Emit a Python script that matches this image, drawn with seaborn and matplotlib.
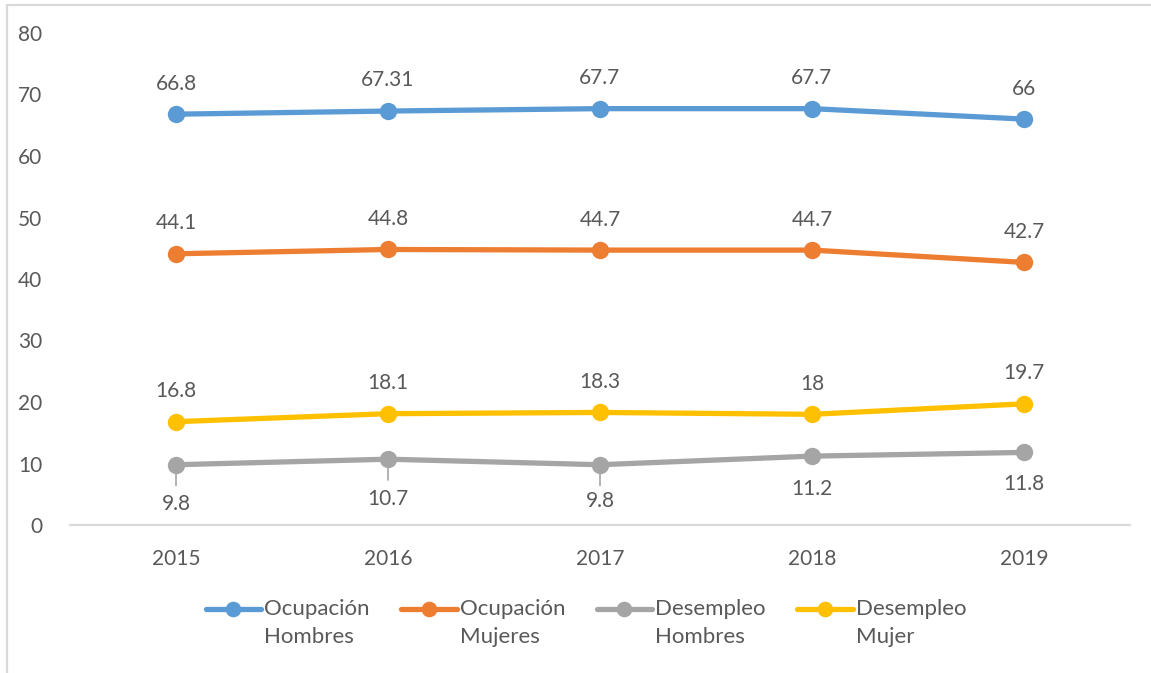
import matplotlib
matplotlib.use("Agg")
import matplotlib.pyplot as plt
from matplotlib.lines import Line2D
from matplotlib.legend_handler import HandlerLine2D
from matplotlib.patches import Rectangle
import numpy as np
import pandas as pd
import seaborn as sns

# Data
years = ["2015", "2016", "2017", "2018", "2019"]
series_names = ["Ocupación\nHombres", "Ocupación\nMujeres", "Desempleo\nHombres", "Desempleo\nMujer"]
ocupacion_hombres = [66.8, 67.31, 67.7, 67.7, 66.0]
ocupacion_mujeres = [44.1, 44.8, 44.7, 44.7, 42.7]
desempleo_hombres = [9.8, 10.7, 9.8, 11.2, 11.8]
desempleo_mujer = [16.8, 18.1, 18.3, 18.0, 19.7]
y_ticks = [0, 10, 20, 30, 40, 50, 60, 70, 80]

colors = ["#5B9BD5", "#ED7D31", "#A5A5A5", "#FFC000"]
text_color = "#595959"
axis_gray = "#D9D9D9"

sns.set_theme(style="white")
plt.rcParams["font.family"] = ["Lato", "DejaVu Sans"]

all_series = [ocupacion_hombres, ocupacion_mujeres, desempleo_hombres, desempleo_mujer]
df = pd.DataFrame({
    "pos": np.tile(np.arange(len(years)), len(series_names)),
    "valor": np.concatenate(all_series),
    "serie": np.repeat(series_names, len(years)),
})


class FirstLineHandler(HandlerLine2D):
    """Legend handle aligned with the first line of a two-line label."""

    def __init__(self, shift, **kw):
        super().__init__(**kw)
        self.shift = shift

    def create_artists(self, legend, orig_handle, xdescent, ydescent, width, height,
                       fontsize, trans):
        arts = super().create_artists(legend, orig_handle, xdescent, ydescent, width,
                                      height, fontsize, trans)
        for a in arts:
            a.set_ydata(np.asarray(a.get_ydata(), dtype=float) + self.shift)
        return arts


fig = plt.figure(figsize=(11.51, 6.73), dpi=100)
ax = fig.add_axes([70 / 1151, 1 - 525 / 673, 1060 / 1151, 492 / 673])

lw = 3.8
ms = 12.5
sns.lineplot(data=df, x="pos", y="valor", hue="serie", hue_order=series_names,
             palette=colors, marker="o", markersize=ms, markeredgewidth=0,
             linewidth=lw, legend=False, ax=ax, zorder=3)

ax.set_xlim(-0.5, len(years) - 0.5)
ax.set_ylim(0, 80)
ax.set_yticks(y_ticks)
ax.set_xticks(range(len(years)))
ax.set_xticklabels(years)
ax.set_xlabel("")
ax.set_ylabel("")
for s in ["left", "right", "top"]:
    ax.spines[s].set_visible(False)
ax.spines["bottom"].set_color(axis_gray)
ax.spines["bottom"].set_linewidth(1.6)
ax.tick_params(axis="both", length=0, labelsize=15, colors=text_color)
ax.tick_params(axis="y", pad=20)
ax.tick_params(axis="x", pad=17)

fs = 15
# Value labels above the markers (occupation and female unemployment)
for vals in [ocupacion_hombres, ocupacion_mujeres, desempleo_mujer]:
    for i, v in enumerate(vals):
        ax.annotate(f"{v:g}", (i, v), xytext=(0, 22), textcoords="offset points",
                    ha="center", va="center", fontsize=fs, color=text_color)

# Male unemployment labels below the markers, with short leader lines
below_offsets = [-28, -29, -26, -24, -23]
for i, (v, off) in enumerate(zip(desempleo_hombres, below_offsets)):
    ax.annotate(f"{v:g}", (i, v), xytext=(0, off), textcoords="offset points",
                ha="center", va="center", fontsize=fs, color=text_color)
    if off <= -26:
        ax.annotate("", (i, v), xytext=(0, -15), textcoords="offset points",
                    arrowprops=dict(arrowstyle="-", color="#A5A5A5", lw=1.2,
                                    shrinkA=0, shrinkB=5))

handles = [Line2D([0], [0], color=c, lw=lw, marker="o", markersize=ms * 0.9,
                  markeredgewidth=0) for c in colors]
leg = fig.legend(handles, series_names, loc="center", bbox_to_anchor=(586 / 1151, 1 - 623 / 673),
                 ncol=4, frameon=False, fontsize=16, handlelength=2.5, handletextpad=0.15,
                 columnspacing=1.4, labelcolor=text_color,
                 handler_map={Line2D: FirstLineHandler(shift=10)})
for t in leg.get_texts():
    t.set_linespacing(1.45)

# Chart area border
fig.patches.append(Rectangle((7 / 1151, -0.1), 1.2, 1.1 - 5 / 673, transform=fig.transFigure,
                             fill=False, edgecolor=axis_gray, linewidth=1.6))

fig.savefig("out.png", dpi=100, facecolor="white")
